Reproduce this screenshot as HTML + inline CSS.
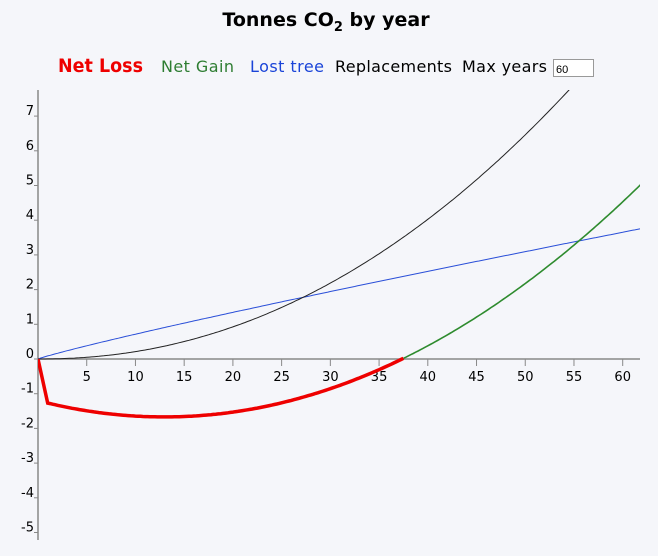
<!DOCTYPE html>
<html><head><meta charset="utf-8"><style>
body{margin:0;background:#f5f6fa;width:658px;height:556px;overflow:hidden;font-family:"DejaVu Sans","Liberation Sans",sans-serif;}
</style></head><body>
<svg width="658" height="556" xmlns="http://www.w3.org/2000/svg" style="position:absolute;left:0;top:0">
<text x="326" y="26" text-anchor="middle" font-size="19" font-weight="bold" font-family="DejaVu Sans,sans-serif" fill="#000">Tonnes CO<tspan font-size="13" dy="5">2</tspan><tspan dy="-5"> by year</tspan></text>
<g font-family="DejaVu Sans,sans-serif" font-size="16">
<text x="58" y="72" fill="#e00" font-size="19" font-weight="bold" textLength="85" lengthAdjust="spacingAndGlyphs">Net Loss</text>
<text x="161" y="72" fill="#2e7d32" textLength="73">Net Gain</text>
<text x="250" y="72" fill="#1a44d8" textLength="74">Lost tree</text>
<text x="335" y="72" fill="#000" textLength="117">Replacements</text>
<text x="462" y="72" fill="#000" textLength="85">Max years</text>
</g>
<rect x="553.5" y="59.5" width="40" height="17" fill="#fff" stroke="#999"/>
<text x="556" y="73" font-size="11" font-family="Liberation Sans,sans-serif">60</text>
<g stroke="#888" stroke-width="1.5">
<line x1="38" y1="90" x2="38" y2="540"/>
<line x1="38" y1="359" x2="640" y2="359"/>
</g>
<g id="ticks" stroke="#888" stroke-width="1"></g>
<g id="lab" font-family="DejaVu Sans,sans-serif" font-size="13" fill="#000"></g>
<defs><clipPath id="c"><rect x="38" y="90" width="602" height="460"/></clipPath></defs>
<g clip-path="url(#c)" fill="none">
<path id="blue" stroke="#2a4fd8" stroke-width="1"/>
<path id="black" stroke="#222" stroke-width="1"/>
<path id="green" stroke="#2e8b2e" stroke-width="1.6"/>
<path id="red" stroke="#e00" stroke-width="3.5"/>
</g>
</svg>
<script>
var X=t=>38+t*9.745,Y=v=>359-v*34.7;
var tk=document.getElementById('ticks'),lb=document.getElementById('lab'),s='',l='';
for(var t=5;t<=60;t+=5){s+='<line x1="'+X(t)+'" y1="359" x2="'+X(t)+'" y2="366"/>';l+='<text x="'+X(t)+'" y="381" text-anchor="middle">'+t+'</text>';}
for(var v=-5;v<=7;v++){s+='<line x1="34" y1="'+Y(v)+'" x2="38" y2="'+Y(v)+'"/>';l+='<text x="34" y="'+(Y(v)-1)+'" text-anchor="end">'+(v<0?'-'+(-v):v)+'</text>';}
tk.innerHTML=s;lb.innerHTML=l;
function P(f,a,b){var d='';for(var t=a;t<=b+1e-9;t+=0.25){d+=(d?'L':'M')+X(t).toFixed(1)+','+Y(f(t)).toFixed(1);}return d;}
document.getElementById('blue').setAttribute('d',P(t=>0.088*Math.pow(t,0.91),0,63));
document.getElementById('black').setAttribute('d',P(t=>0.001616*Math.pow(t,2.12),0,63));
var n=t=>-1.2+0.0028*t*t-0.0725*t;
document.getElementById('green').setAttribute('d',P(n,37.5,63));
document.getElementById('red').setAttribute('d','M'+X(0)+','+Y(0)+P(n,1,37.5).replace('M','L'));
</script>
</body></html>
